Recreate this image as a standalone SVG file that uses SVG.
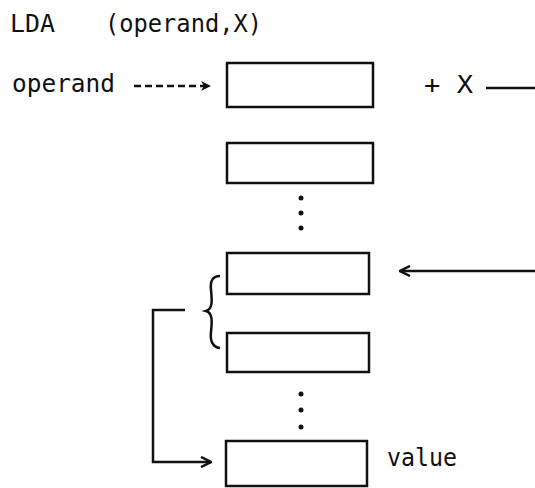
<svg xmlns="http://www.w3.org/2000/svg" width="535" height="488" viewBox="0 0 535 488">
<defs>
<style>
.t{font-family:"DejaVu Sans Mono","Liberation Mono",monospace;font-size:25px;fill:#111}
.box{fill:#fff;stroke:#111;stroke-width:2.5}
.ln{fill:none;stroke:#111;stroke-width:2.5}
.dot{fill:#111}
</style>
<marker id="ah" viewBox="0 0 12 12" refX="11" refY="6" markerWidth="12" markerHeight="12" markerUnits="userSpaceOnUse" orient="auto">
<path d="M1,1 L11,6 L1,11" fill="none" stroke="#111" stroke-width="2.5"/>
</marker>
<marker id="ahf" viewBox="0 0 12 12" refX="11" refY="6" markerWidth="12" markerHeight="12" markerUnits="userSpaceOnUse" orient="auto">
<path d="M1,1 L11,6 L1,11 L4,6 Z" fill="#111"/>
</marker>
</defs>
<rect width="535" height="488" fill="#fff"/>
<g id="title">
<text class="t" x="10" y="32" textLength="45" lengthAdjust="spacingAndGlyphs">LDA</text>
<text class="t" x="105" y="32" textLength="157" lengthAdjust="spacingAndGlyphs">(operand,X)</text>
</g>
<g id="operand"><text class="t" x="12" y="92" textLength="103" lengthAdjust="spacingAndGlyphs">operand</text></g>
<g id="plusx"><text class="t" x="424" y="93" textLength="49" lengthAdjust="spacingAndGlyphs">+ X</text></g>
<g id="box1"><rect class="box" x="227" y="63" width="146" height="44"/></g>
<g id="box2"><rect class="box" x="227" y="143" width="146" height="40"/></g>
<g id="dots1"><circle class="dot" cx="301" cy="198" r="2.5"/><circle class="dot" cx="301" cy="213" r="2.5"/><circle class="dot" cx="301" cy="228" r="2.5"/></g>
<g id="box3"><rect class="box" x="227" y="253" width="142" height="41"/></g>
<g id="brace"><path class="ln" d="M220,276 C212,276 210,282 211,290 C212,300 213,309 206,311 C213,313 212,322 211,332 C210,340 212,347 220,348"/></g>
<g id="box4"><rect class="box" x="227" y="333" width="142" height="39"/></g>
<g id="dots2"><circle class="dot" cx="301" cy="394" r="2.5"/><circle class="dot" cx="301" cy="410" r="2.5"/><circle class="dot" cx="301" cy="427" r="2.5"/></g>
<g id="box5"><rect class="box" x="226" y="441" width="141" height="45"/></g>
<g id="value"><text class="t" x="387" y="466" textLength="70" lengthAdjust="spacingAndGlyphs">value</text></g>
<g id="connectors">
<path class="ln" d="M134,86 L211,86" stroke-dasharray="7,4" marker-end="url(#ahf)"/>
<path class="ln" d="M486,88 L535,88"/>
<path class="ln" d="M535,271 L400,271" marker-end="url(#ah)"/>
<path class="ln" d="M185,310 L153,310 L153,462 L211,462" marker-end="url(#ah)"/>
</g>
</svg>
